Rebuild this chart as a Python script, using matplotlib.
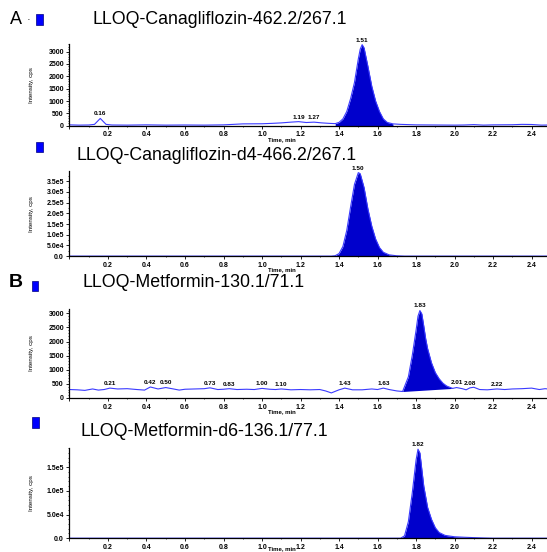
import matplotlib
matplotlib.use('Agg')
import matplotlib.pyplot as plt
import numpy as np
from matplotlib.ticker import MultipleLocator, FuncFormatter
from matplotlib.patches import Rectangle

plt.rcParams['font.family'] = ['Liberation Sans', 'DejaVu Sans']

# ---- data (time in min, intensity in cps) ----
cana_t = [0.00, 0.05, 0.10, 0.13, 0.16, 0.19, 0.22, 0.30, 0.40, 0.50, 0.60, 0.70,
          0.80, 0.85, 0.90, 1.00, 1.05, 1.10, 1.15, 1.19, 1.23, 1.27, 1.31, 1.35,
          1.38, 1.40, 1.42, 1.44, 1.46, 1.48, 1.50, 1.51, 1.52, 1.53, 1.55, 1.57,
          1.59, 1.61, 1.63, 1.65, 1.68, 1.72, 1.80, 1.90, 2.00, 2.05, 2.10, 2.15,
          2.20, 2.30, 2.35, 2.40, 2.45, 2.50]
cana_i = [40, 30, 35, 60, 300, 60, 35, 30, 40, 30, 35, 30,
          40, 60, 80, 85, 100, 120, 150, 170, 135, 150, 120, 100,
          90, 140, 280, 580, 1100, 1750, 2700, 3100, 3280, 3150, 2400, 1600,
          1000, 580, 280, 140, 80, 60, 40, 35, 30, 35, 50, 30,
          40, 45, 60, 55, 30, 35]
cana_peaks = [(0.16, '0.16'), (1.19, '1.19'), (1.27, '1.27'), (1.52, '1.51')]

cana_d4_t = [0.00, 1.36, 1.38, 1.40, 1.42, 1.44, 1.46, 1.48, 1.50, 1.51, 1.53,
             1.55, 1.57, 1.59, 1.61, 1.63, 1.66, 1.70, 1.74, 2.50]
cana_d4_i = [0, 0, 2000, 12000, 45000, 120000, 230000, 335000, 390000, 385000,
             320000, 220000, 140000, 80000, 40000, 18000, 6000, 1500, 0, 0]
cana_d4_peaks = [(1.50, '1.50')]

met_t = [0.00, 0.04, 0.08, 0.12, 0.15, 0.18, 0.21, 0.25, 0.30, 0.35, 0.39, 0.42,
         0.46, 0.50, 0.54, 0.57, 0.60, 0.65, 0.70, 0.73, 0.77, 0.80, 0.83, 0.87,
         0.92, 0.96, 1.00, 1.04, 1.07, 1.10, 1.15, 1.20, 1.25, 1.30, 1.33, 1.36,
         1.40, 1.43, 1.47, 1.52, 1.57, 1.60, 1.63, 1.66, 1.70, 1.73, 1.76, 1.78,
         1.80, 1.81, 1.82, 1.83, 1.84, 1.85, 1.86, 1.88, 1.90, 1.92, 1.94, 1.96,
         1.99, 2.01, 2.04, 2.06, 2.08, 2.10, 2.13, 2.17, 2.22, 2.26, 2.30, 2.35,
         2.40, 2.44, 2.47, 2.50]
met_i = [300, 290, 270, 320, 280, 300, 350, 320, 330, 300, 280, 390,
         320, 370, 320, 280, 310, 320, 330, 360, 300, 310, 330, 300,
         310, 300, 340, 310, 300, 320, 290, 300, 290, 300, 250, 180,
         290, 350, 290, 290, 320, 300, 350, 300, 250, 230, 750, 1500,
         2400, 2900, 3100, 2980, 2550, 2100, 1750, 1250, 900, 680, 520, 420,
         340, 370, 330, 290, 360, 380, 300, 290, 320, 300, 320, 330,
         350, 300, 330, 310]
met_peaks = [(0.21, '0.21'), (0.42, '0.42'), (0.50, '0.50'), (0.73, '0.73'),
             (0.83, '0.83'), (1.00, '1.00'), (1.10, '1.10'), (1.43, '1.43'),
             (1.63, '1.63'), (1.82, '1.83'), (2.01, '2.01'), (2.08, '2.08'),
             (2.22, '2.22')]

met_d6_t = [0.00, 1.72, 1.74, 1.76, 1.78, 1.80, 1.81, 1.82, 1.84, 1.86, 1.88,
            1.90, 1.92, 1.95, 2.00, 2.05, 2.10, 2.15, 2.20, 2.50]
met_d6_i = [0, 0, 5000, 35000, 95000, 165000, 188000, 180000, 110000, 65000,
            40000, 22000, 12000, 6000, 3000, 2000, 1200, 500, 0, 0]
met_d6_peaks = [(1.81, '1.82')]

titles = ['LLOQ-Canagliflozin-462.2/267.1', 'LLOQ-Canagliflozin-d4-466.2/267.1',
          'LLOQ-Metformin-130.1/71.1', 'LLOQ-Metformin-d6-136.1/77.1']

LINE = '#3a3aff'
FILL = '#0000cc'


def sci(v, pos):
    if v == 0:
        return '0.0'
    e = int(np.floor(np.log10(abs(v))))
    return '{:.1f}e{}'.format(v / 10 ** e, e)


fig = plt.figure(figsize=(5.47, 5.52), dpi=100)

# axes rectangles: left, bottom, width, height (figure fraction)
boxes = [(0.127, 0.772, 0.873, 0.148),
         (0.127, 0.536, 0.873, 0.154),
         (0.127, 0.279, 0.873, 0.161),
         (0.127, 0.025, 0.873, 0.163)]

panels = [
    (cana_t, cana_i, cana_peaks, 3300, 500, 100, None, (1.38, 1.70)),
    (cana_d4_t, cana_d4_i, cana_d4_peaks, 3.97e5, 5e4, 2.5e4, sci, (0, 2.5)),
    (met_t, met_i, met_peaks, 3150, 500, 100, None, (1.73, 1.99)),
    (met_d6_t, met_d6_i, met_d6_peaks, 1.9e5, 5e4, 1e4, sci, (0, 2.5)),
]

for idx, (box, (t, inten, peaks, ymax, ymaj, ymin, fmt, frange)) in enumerate(zip(boxes, panels)):
    ax = fig.add_axes(box)
    t = np.array(t, dtype=float)
    inten = np.array(inten, dtype=float)
    ax.plot(t, inten, color=LINE, lw=0.8)
    mask = (t >= frange[0]) & (t <= frange[1])
    if idx == 2:
        base = np.interp(t, [t[mask][0], t[mask][-1]], [inten[mask][0], inten[mask][-1]])
    else:
        base = np.zeros_like(t)
    ax.fill_between(t, base, inten, where=mask, color=FILL, lw=0)

    for pt, lab in peaks:
        ax.annotate(lab, (pt, np.interp(pt, t, inten)), xytext=(0, 1.5),
                    textcoords='offset points', ha='center', va='bottom',
                    fontsize=4.6, fontweight='bold', annotation_clip=False)

    ax.set_xlim(0, 2.48)
    ax.set_ylim(0, ymax)
    ax.xaxis.set_major_locator(MultipleLocator(0.2))
    ax.xaxis.set_minor_locator(MultipleLocator(0.1))
    ax.yaxis.set_major_locator(MultipleLocator(ymaj))
    ax.yaxis.set_minor_locator(MultipleLocator(ymin))
    ax.xaxis.set_major_formatter(FuncFormatter(lambda v, p: '' if v < 0.1 else '{:.1f}'.format(v)))
    if fmt is not None:
        ax.yaxis.set_major_formatter(FuncFormatter(fmt))
    for lab in ax.get_xticklabels() + ax.get_yticklabels():
        lab.set_fontsize(5)
        lab.set_fontweight('bold')
    ax.tick_params(which='major', length=2, width=0.6, pad=2)
    ax.tick_params(which='minor', length=1, width=0.5)
    ax.spines['top'].set_visible(False)
    ax.spines['right'].set_visible(False)
    ax.spines['left'].set_linewidth(0.9)
    ax.spines['bottom'].set_linewidth(0.9)
    ax.set_ylabel('Intensity, cps', fontsize=4.5)
    ax.yaxis.set_label_coords(-0.075, 0.5)
    ax.set_xlabel('Time, min', fontsize=4.3, fontweight='bold')
    height_px = box[3] * 552
    ax.xaxis.set_label_coords(0.445, (-11.0 if idx < 3 else -7.5) / height_px)

# titles and panel markers
title_pos = [(92, 20), (76, 155), (82, 283), (81, 431)]
for (x, y), txt in zip(title_pos, titles):
    fig.text(x / 547, 1 - y / 552, txt, fontsize=12.8, va='center', ha='left')

fig.text(10 / 547, 1 - 20 / 552, 'A', fontsize=13, va='center', ha='left')
fig.text(27 / 547, 1 - 20 / 552, '\u00b7', fontsize=8, va='center', ha='left')
fig.text(9 / 547, 1 - 283 / 552, 'B', fontsize=14, fontweight='bold', va='center', ha='left')

squares = [(36, 14, 7, 11), (36, 142, 7, 10), (32, 281, 6, 10), (32, 417, 7, 11)]
for x, y, w, h in squares:
    fig.patches.append(Rectangle((x / 547, 1 - (y + h) / 552), w / 547, h / 552,
                                 transform=fig.transFigure, facecolor='#0000ff',
                                 edgecolor='#000080', lw=0.5))

fig.savefig('out.png', dpi=100)
